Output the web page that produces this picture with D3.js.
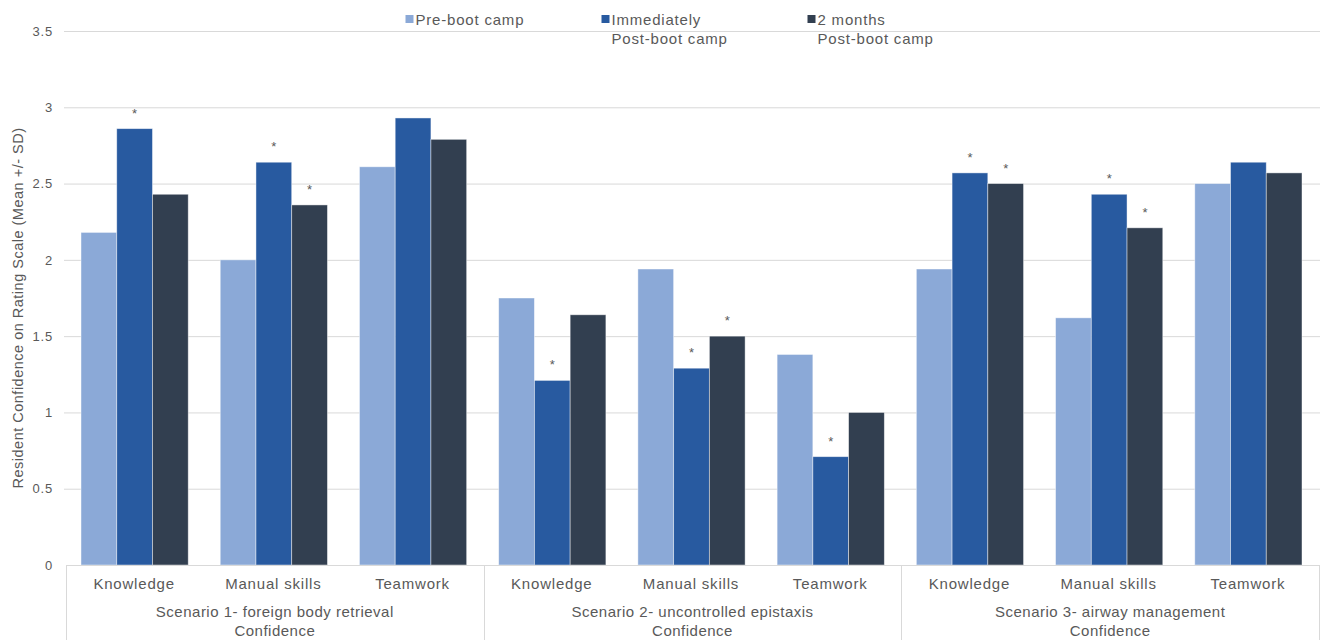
<!DOCTYPE html>
<html>
<head>
<meta charset="utf-8">
<script src="https://cdn.jsdelivr.net/npm/d3@7"></script>
<style>
  html, body { margin: 0; padding: 0; background: #fff; }
  svg { display: block; font-family: "Liberation Sans", Arial, sans-serif; }
  text { fill: #595959; }
</style>
</head>
<body>
<svg id="chart" width="1320" height="640"></svg>
<script>
// Resident confidence ratings per scenario and skill domain
const skills = ["Knowledge", "Manual skills", "Teamwork"];
const scenarios = [
  ["Scenario 1- foreign body retrieval", "Confidence"],
  ["Scenario 2- uncontrolled epistaxis", "Confidence"],
  ["Scenario 3- airway management", "Confidence"]
];
const seriesLabels = [
  ["Pre-boot camp"],
  ["Immediately", "Post-boot camp"],
  ["2 months", "Post-boot camp"]
];
const preBootCamp      = [2.18, 2.00, 2.61, 1.75, 1.94, 1.38, 1.94, 1.62, 2.50];
const immediatelyPost  = [2.86, 2.64, 2.93, 1.21, 1.29, 0.71, 2.57, 2.43, 2.64];
const twoMonthsPost    = [2.43, 2.36, 2.79, 1.64, 1.50, 1.00, 2.50, 2.21, 2.57];
// significance markers (*) for each post-boot-camp series
const sigImmediately   = [true, true, false, true, true, true, true, true, false];
const sigTwoMonths     = [false, true, false, false, true, false, true, true, false];
const yTicks = [0, 0.5, 1, 1.5, 2, 2.5, 3, 3.5];
const colors = ["#8BA9D7", "#285AA0", "#323F50"];

const series = [preBootCamp, immediatelyPost, twoMonthsPost];
const significance = [null, sigImmediately, sigTwoMonths];

// one entry per skill × scenario column
const columns = [];
scenarios.forEach((sc, si) => skills.forEach((sk, ki) => columns.push({ scenario: si, skill: sk, i: si * 3 + ki })));

const svg = d3.select("#chart");
const plotLeft = 66, plotRight = 1319, plotTop = 31, plotBottom = 565;

const x = d3.scaleBand().domain(d3.range(columns.length)).range([plotLeft, plotRight]);
const xInner = d3.scaleBand().domain(d3.range(series.length))
  .range([15, x.bandwidth() - 17]);
const y = d3.scaleLinear().domain([0, 3.5]).range([plotBottom, plotTop]);

// gridlines
svg.append("g")
  .attr("transform", `translate(${plotLeft - 2},0)`)
  .call(d3.axisLeft(y).tickValues(yTicks.filter(t => t > 0)).tickSize(-(plotRight - plotLeft + 3)).tickFormat(""))
  .call(g => g.select(".domain").remove())
  .call(g => g.selectAll("line").attr("stroke", "#D9D9D9").attr("stroke-width", 1));

// y tick labels
svg.append("g")
  .attr("transform", `translate(${plotLeft},0)`)
  .call(d3.axisLeft(y).tickValues(yTicks).tickSize(0).tickPadding(13).tickFormat(d3.format("")))
  .call(g => g.select(".domain").remove())
  .call(g => g.selectAll("text")
    .attr("fill", "#595959").style("fill", "#595959")
    .attr("font-size", 13).attr("letter-spacing", 0.8)
    .attr("font-family", "Liberation Sans, Arial, sans-serif"));

// y axis title
svg.append("text")
  .attr("transform", `translate(18,${(plotTop + plotBottom) / 2 + 10}) rotate(-90)`)
  .attr("text-anchor", "middle")
  .attr("dominant-baseline", "central")
  .attr("font-size", 14.5)
  .attr("letter-spacing", 0.5)
  .text("Resident Confidence on Rating Scale (Mean +/- SD)");

// bars
const barGroups = svg.append("g").selectAll("g")
  .data(series)
  .join("g")
  .attr("fill", (d, s) => colors[s]);

barGroups.selectAll("rect")
  .data((vals, s) => vals.map((v, i) => ({ v, i, s })))
  .join("rect")
  .attr("x", d => x(d.i) + xInner(d.s))
  .attr("width", xInner.bandwidth())
  .attr("y", d => y(d.v))
  .attr("height", d => y(0) - y(d.v))
  .attr("stroke", "rgba(255,255,255,0.55)")
  .attr("stroke-width", 0.8);

// significance asterisks
const stars = [];
series.forEach((vals, s) => {
  if (!significance[s]) return;
  vals.forEach((v, i) => { if (significance[s][i]) stars.push({ v, i, s }); });
});
svg.append("g").selectAll("text")
  .data(stars)
  .join("text")
  .attr("x", d => x(d.i) + xInner(d.s) + xInner.bandwidth() / 2)
  .attr("y", d => y(d.v) - 11)
  .attr("text-anchor", "middle")
  .attr("font-size", 13)
  .text("*");

// x axis baseline and scenario separators
const axisG = svg.append("g").attr("stroke", "#D9D9D9").attr("stroke-width", 1);
axisG.append("line")
  .attr("x1", plotLeft).attr("x2", plotRight)
  .attr("y1", plotBottom + 0.5).attr("y2", plotBottom + 0.5);
const sepXs = d3.range(scenarios.length + 1).map(k => k < scenarios.length ? x(k * 3) : plotRight);
axisG.selectAll(".sep")
  .data(sepXs)
  .join("line")
  .attr("x1", d => Math.round(d) + 0.5).attr("x2", d => Math.round(d) + 0.5)
  .attr("y1", plotBottom).attr("y2", 640);

// skill labels
svg.append("g").selectAll("text")
  .data(columns)
  .join("text")
  .attr("x", d => x(d.i) + x.bandwidth() / 2 - 1.5)
  .attr("y", 589)
  .attr("text-anchor", "middle")
  .attr("font-size", 15)
  .attr("letter-spacing", 0.8)
  .text(d => d.skill);

// scenario labels
svg.append("g").selectAll("text")
  .data(scenarios)
  .join("text")
  .attr("x", (d, k) => x(k * 3) + x.bandwidth() * 1.5)
  .attr("y", 617)
  .attr("text-anchor", "middle")
  .attr("font-size", 15)
  .attr("letter-spacing", 0.5)
  .selectAll("tspan")
  .data(d => d)
  .join("tspan")
  .attr("x", function () { return this.parentNode.getAttribute("x"); })
  .attr("dy", (d, j) => j === 0 ? 0 : 19)
  .text(d => d);

// legend
const legendXs = [405.5, 601.5, 807.5];
const legend = svg.append("g").selectAll("g")
  .data(seriesLabels)
  .join("g")
  .attr("transform", (d, s) => `translate(${legendXs[s]},0)`);
legend.append("rect")
  .attr("x", 0).attr("y", 15)
  .attr("width", 8).attr("height", 8)
  .attr("fill", (d, s) => colors[s]);
legend.append("text")
  .attr("font-size", 15)
  .attr("letter-spacing", 0.8)
  .selectAll("tspan")
  .data(d => d)
  .join("tspan")
  .attr("x", 10)
  .attr("y", (d, j) => 25 + j * 18.5)
  .text(d => d);
</script>
</body>
</html>
